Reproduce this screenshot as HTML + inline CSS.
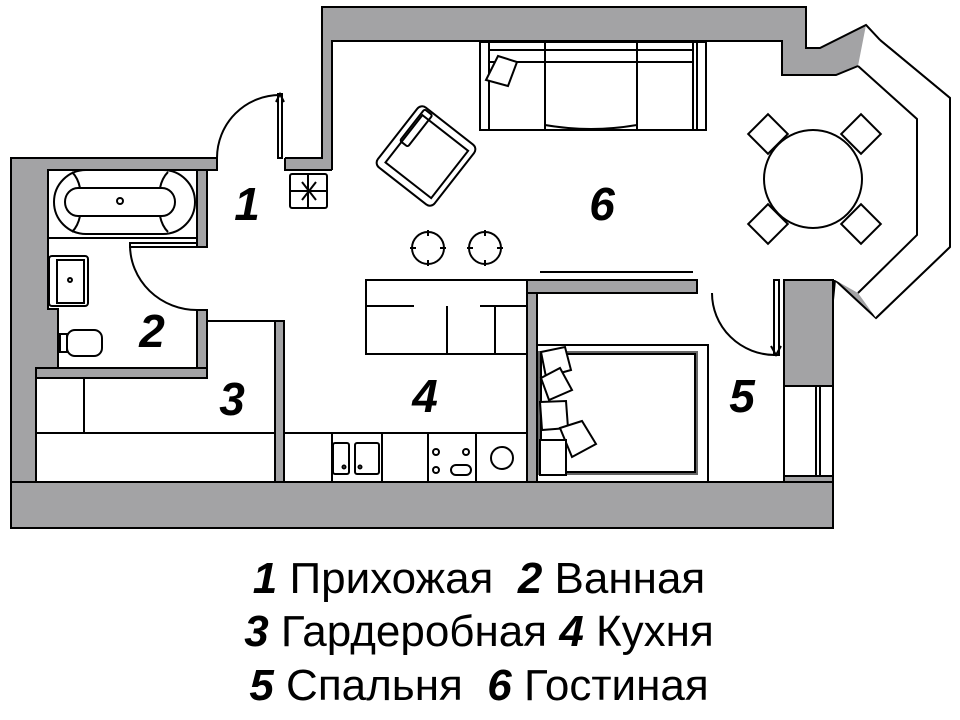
<!DOCTYPE html>
<html><head><meta charset="utf-8"><style>
html,body{margin:0;padding:0;background:#fff;}
svg{display:block;}
.n{font-family:"Liberation Sans",sans-serif;font-weight:bold;font-style:italic;}
.t{font-family:"Liberation Sans","DejaVu Sans",sans-serif;}
</style></head><body>
<svg width="960" height="720" viewBox="0 0 960 720" xmlns="http://www.w3.org/2000/svg">
<g stroke="#000" stroke-width="2" fill="#a3a3a5">
<polygon points="11,158 217,158 217,170 285,170 285,158 322,158 322,7 806,7 806,48 820,48 866,25 880,40 950,98 950,247 876,318 835,280 833,300 833,528 11,528"/>
</g>
<g fill="#fff" stroke="none">
<rect x="217" y="150" width="68" height="22"/>
<polygon points="332,41 782,41 782,75 836,75 858,66 917,119 917,235 858,293 835,280 784,280 784,482 284,482 284,321 207,321 207,170 332,170"/>
<rect x="48" y="170" width="149" height="139"/>
<rect x="58" y="305" width="139" height="63"/>
<rect x="190" y="247" width="20" height="63"/>
<rect x="36" y="378" width="239" height="104"/>
<rect x="207" y="321" width="68" height="60"/>
<polygon points="866,25 880,40 950,98 950,247 876,318 858,293 917,235 917,119 858,66"/>
<rect x="784" y="386" width="49" height="90"/>
</g>
<g stroke="#000" stroke-width="2" fill="none">
<polyline points="332,170 332,41 782,41 782,75 836,75 858,66"/>
<polyline points="858,66 917,119 917,235 858,293"/>
<polyline points="880,40 950,98 950,247 876,318"/>
<line x1="866" y1="25" x2="880" y2="40"/>
<line x1="833" y1="386" x2="833" y2="476"/>
<line x1="784" y1="386" x2="833" y2="386"/>
<line x1="784" y1="476" x2="833" y2="476"/>
<line x1="816" y1="386" x2="816" y2="476"/>
<line x1="820" y1="386" x2="820" y2="476"/>
<polyline points="11,158 217,158 217,170 48,170 48,309 58,309 58,368"/>
<polyline points="285,158 285,170 332,170"/>
</g>
<g fill="#a3a3a5" stroke="#000" stroke-width="2">
<rect x="197" y="170" width="10" height="77"/>
<rect x="197" y="310" width="10" height="68"/>
<rect x="36" y="368" width="171" height="10"/>
<rect x="275" y="321" width="9" height="161"/>
<rect x="527" y="280" width="10" height="202"/>
<rect x="527" y="280" width="170" height="13"/>
<rect x="11" y="482" width="822" height="46"/>
<rect x="784" y="280" width="49" height="106"/>
</g>
<g stroke="#000" stroke-width="2" fill="none">
<line x1="207" y1="321" x2="275" y2="321"/>
<line x1="36" y1="433" x2="275" y2="433"/>
<line x1="84" y1="378" x2="84" y2="433"/>
<line x1="36" y1="378" x2="36" y2="482"/>
<line x1="784" y1="293" x2="784" y2="482"/>
<rect x="278" y="94" width="4" height="64" fill="#fff"/>
<path d="M217,158 A63,63 0 0 1 280,95"/>
<path d="M276,102 L280,94 L284,102"/>
<rect x="130" y="243" width="67" height="4" fill="#fff"/>
<path d="M130,245 A67,65 0 0 0 197,310"/>
<rect x="774" y="280" width="5" height="75" fill="#fff"/>
<path d="M712,293 A63,62 0 0 0 775,355"/>
<path d="M771,346 L776,355 L781,346"/>
<rect x="48" y="170" width="149" height="68"/>
<rect x="54" y="170" width="141" height="64" rx="32"/>
<path d="M78,188 H162 A13,14 0 0 1 162,216 H78 A13,14 0 0 1 78,188 Z"/>
<circle cx="120" cy="201" r="3"/>
<path d="M80,188 Q78,178 72,172 M160,188 Q162,178 168,172 M80,216 Q78,226 72,232 M160,216 Q162,226 168,232"/>
<rect x="49" y="256" width="39" height="50" rx="3"/>
<rect x="57" y="260" width="27" height="43"/>
<circle cx="70" cy="280" r="2"/>
<rect x="67" y="330" width="35" height="26" rx="8"/>
<rect x="60" y="334" width="7" height="18"/>
<rect x="290" y="174" width="37" height="34" rx="2"/>
<path d="M302,182 L316,200 M316,182 L302,200 M290,191 H327 M308,174 V208"/>
<g transform="translate(426,156) rotate(38)">
<rect x="-36" y="-38" width="72" height="76" rx="6"/>
<rect x="-28" y="-30" width="58" height="60"/>
<rect x="-30" y="-36" width="10" height="40" rx="2"/>
</g>
<circle cx="428" cy="248" r="16"/>
<circle cx="485" cy="248" r="16"/>
<path d="M428,230 V236 M428,260 V266 M410,248 H416 M440,248 H446 M485,230 V236 M485,260 V266 M467,248 H473 M497,248 H503"/>
<rect x="480" y="42" width="226" height="88"/>
<line x1="489" y1="42" x2="489" y2="130"/>
<line x1="693" y1="42" x2="693" y2="130"/>
<line x1="697" y1="42" x2="697" y2="130"/>
<path d="M490,62 H692 M490,50 H692"/>
<line x1="545" y1="42" x2="545" y2="130"/>
<line x1="637" y1="42" x2="637" y2="130"/>
<path d="M545,125 Q591,133 637,125"/>
<path d="M486,80 L498,56 L517,62 L508,86 Z" fill="#fff"/>
<line x1="540" y1="272" x2="693" y2="272"/>
<circle cx="813" cy="179" r="49"/>
<g fill="#fff">
<rect x="-14" y="-14" width="28" height="28" transform="translate(768,134) rotate(45)"/>
<rect x="-14" y="-14" width="28" height="28" transform="translate(861,134) rotate(45)"/>
<rect x="-14" y="-14" width="28" height="28" transform="translate(768,224) rotate(45)"/>
<rect x="-14" y="-14" width="28" height="28" transform="translate(861,224) rotate(45)"/>
</g>
<rect x="366" y="280" width="161" height="74"/>
<path d="M366,306 H414 M447,306 V354 M480,306 H527 M495,306 V354"/>
<path d="M284,433 H527 M332,433 V482 M382,433 V482 M428,433 V482 M476,433 V482"/>
<rect x="333" y="443" width="16" height="31" rx="2"/>
<rect x="355" y="443" width="24" height="31" rx="2"/>
<circle cx="344" cy="467" r="1.5"/><circle cx="360" cy="467" r="1.5"/>
<circle cx="436" cy="452" r="3"/><circle cx="466" cy="452" r="3"/><circle cx="436" cy="470" r="3"/>
<rect x="451" y="465" width="20" height="10" rx="5"/>
<circle cx="502" cy="458" r="11"/>
<rect x="537" y="345" width="171" height="137"/>
<rect x="540" y="353" width="156" height="120" stroke="#666" stroke-width="4"/>
<rect x="541" y="354" width="154" height="118"/>
<g fill="#fff">
<path d="M541,352 L565,347 L571,370 L546,377 Z"/>
<path d="M541,378 L560,368 L572,390 L549,400 Z"/>
<path d="M540,402 L566,401 L568,428 L542,430 Z"/>
<path d="M560,428 L582,421 L596,444 L572,457 Z"/>
<path d="M540,440 L566,440 L566,475 L540,475 Z"/>
</g>
</g>
<g class="n" font-size="46" text-anchor="middle">
<text x="247" y="220">1</text>
<text x="152" y="347">2</text>
<text x="232" y="415">3</text>
<text x="425" y="412">4</text>
<text x="742" y="412">5</text>
<text x="602" y="220">6</text>
</g>
<g font-size="44" text-anchor="middle">
<text x="479" y="593"><tspan class="n">1</tspan><tspan class="t"> Прихожая&#160; </tspan><tspan class="n">2</tspan><tspan class="t"> Ванная</tspan></text>
<text x="479" y="646"><tspan class="n">3</tspan><tspan class="t"> Гардеробная </tspan><tspan class="n">4</tspan><tspan class="t"> Кухня</tspan></text>
<text x="479" y="700"><tspan class="n">5</tspan><tspan class="t"> Спальня&#160; </tspan><tspan class="n">6</tspan><tspan class="t"> Гостиная</tspan></text>
</g>
</svg>
</body></html>
